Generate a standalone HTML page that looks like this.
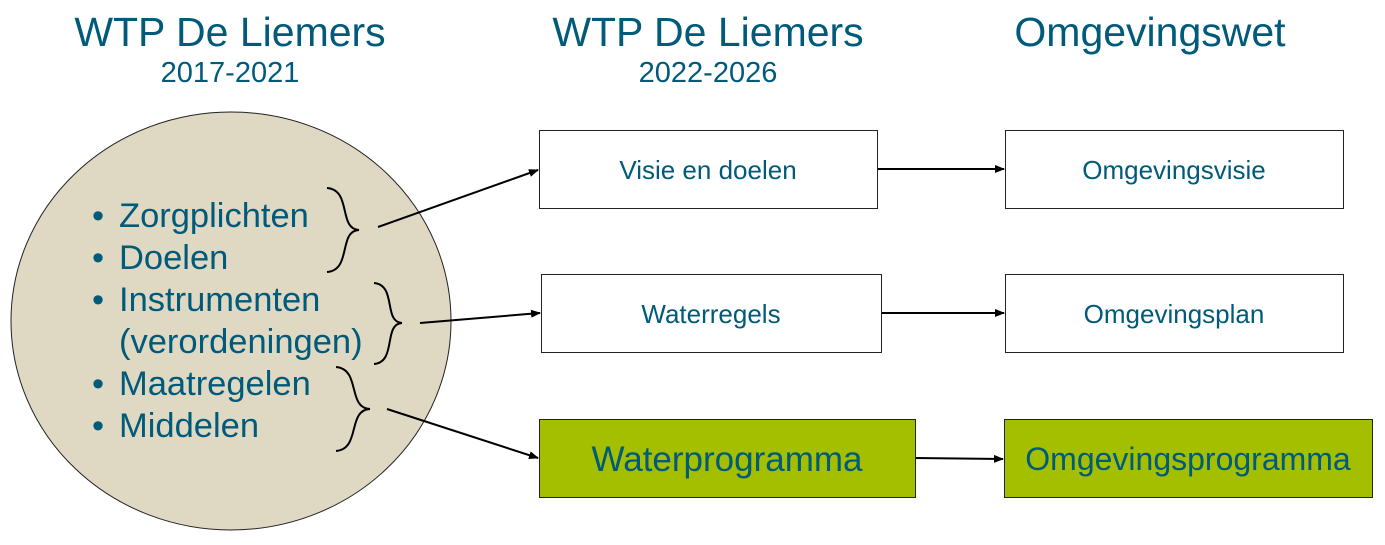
<!DOCTYPE html>
<html><head><meta charset="utf-8"><style>
body{margin:0;background:#fff;width:1385px;height:540px;overflow:hidden;font-family:"Liberation Sans",Arial,sans-serif}
</style></head><body>
<svg width="1385" height="540" xmlns="http://www.w3.org/2000/svg" font-family="Liberation Sans, Arial, sans-serif">
<defs><marker id="a" markerWidth="10" markerHeight="8" refX="9" refY="4" orient="auto" markerUnits="userSpaceOnUse"><path d="M0,0 L10,4 L0,8 z" fill="#000"/></marker></defs>
<g fill="#005a7a" text-anchor="middle">
<text x="230" y="46" font-size="41">WTP De Liemers</text>
<text x="230" y="82" font-size="29">2017-2021</text>
<text x="708" y="46" font-size="41">WTP De Liemers</text>
<text x="708" y="82" font-size="29">2022-2026</text>
<text x="1150" y="46" font-size="41">Omgevingswet</text>
</g>
<ellipse cx="231" cy="321" rx="220" ry="209" fill="#dfd8c3" stroke="#222" stroke-width="1"/>
<g fill="#005a7a" font-size="34.5">
<text x="92" y="227">•</text><text x="119" y="227">Zorgplichten</text>
<text x="92" y="269">•</text><text x="119" y="269">Doelen</text>
<text x="92" y="311">•</text><text x="119" y="311">Instrumenten</text>
<text x="119" y="353">(verordeningen)</text>
<text x="92" y="395">•</text><text x="119" y="395">Maatregelen</text>
<text x="92" y="437">•</text><text x="119" y="437">Middelen</text>
</g>
<g fill="none" stroke="#000" stroke-width="2">
<path d="M327,188 C352,190 338,229 359,230 C338,231 352,270 327,272"/>
<path d="M374,283 C397,285 383,322 402,323 C383,324 397,362 374,364"/>
<path d="M336,367 C361,369 347,408 370,409 C347,410 361,449 336,451"/>
</g>
<g stroke="#000" stroke-width="2" marker-end="url(#a)">
<line x1="378" y1="227" x2="538" y2="170"/>
<line x1="420" y1="323" x2="540" y2="313"/>
<line x1="387" y1="409" x2="538" y2="458"/>
<line x1="877" y1="169" x2="1004" y2="169"/>
<line x1="881" y1="313" x2="1004" y2="313"/>
<line x1="915" y1="458" x2="1003" y2="459"/>
</g>
<g stroke="#222" stroke-width="1">
<rect x="539.5" y="130.5" width="338" height="78" fill="#fff"/>
<rect x="541.5" y="274.5" width="340" height="78" fill="#fff"/>
<rect x="539.5" y="419.5" width="376" height="78" fill="#a3bf00"/>
<rect x="1005.5" y="130.5" width="338" height="78" fill="#fff"/>
<rect x="1005.5" y="274.5" width="338" height="78" fill="#fff"/>
<rect x="1004.5" y="419.5" width="368" height="78" fill="#a3bf00"/>
</g>
<g fill="#005a7a" text-anchor="middle">
<text x="708" y="179" font-size="26">Visie en doelen</text>
<text x="711" y="323" font-size="26">Waterregels</text>
<text x="727" y="471" font-size="35">Waterprogramma</text>
<text x="1174" y="179" font-size="26">Omgevingsvisie</text>
<text x="1174" y="323" font-size="26">Omgevingsplan</text>
<text x="1188" y="470" font-size="32">Omgevingsprogramma</text>
</g>
</svg>
</body></html>
